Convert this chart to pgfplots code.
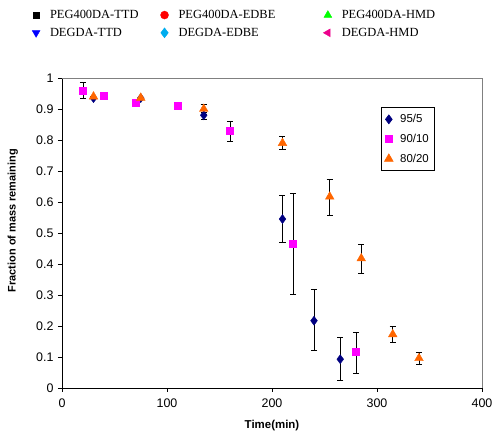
\documentclass[border=0pt]{standalone}
\usepackage{pgfplots}
\pgfplotsset{compat=1.18}
\usepackage{fontspec}
\setmainfont{Liberation Sans}
\newfontfamily\serif{Liberation Serif}

\definecolor{navy}{RGB}{0,0,128}
\definecolor{mag}{RGB}{255,0,255}
\definecolor{orng}{RGB}{255,102,0}

% x, y, err plus, err minus
\pgfplotstableread{
x y ep em
30 0.935 0 0
75 0.935 0 0
135 0.88 0.01 0.015
210 0.545 0.075 0.075
240 0.217 0.10 0.097
265 0.093 0.07 0.07
}\ninetyfive
\pgfplotstableread{
x y ep em
20 0.96 0.025 0.025
40 0.944 0 0
70 0.92 0 0
110 0.91 0 0
160 0.83 0.03 0.035
220 0.465 0.163 0.163
280 0.117 0.061 0.07
}\ninety
\pgfplotstableread{
x y ep em
30 0.94 0 0
75 0.936 0 0
135 0.90 0.016 0.016
210 0.79 0.023 0.019
255 0.617 0.056 0.059
285 0.418 0.045 0.048
315 0.173 0.025 0.027
340 0.096 0.019 0.02
}\eighty

\begin{document}
\begin{tikzpicture}
\useasboundingbox (-62bp,-43bp) rectangle (430bp,388bp);
\begin{axis}[
  at={(0,0)}, anchor=origin,
  scale only axis,
  width=420bp, height=310bp,
  xmin=0, xmax=400, ymin=0, ymax=1,
  xtick={0,100,...,400},
  ytick={0,0.1,...,1.0},
  axis x line*=bottom, axis y line*=left,
  axis line style={black, line width=0.8pt, -},
  tick align=outside,
  major tick length=4bp,
  tick style={black, line width=0.8pt},
  /pgf/number format/assume math mode=true,
  tick label style={font=\fontsize{12.5}{14}\selectfont},
  xticklabel style={yshift=-3bp},
  yticklabel style={xshift=-1bp},
  xlabel={\textbf{Time(min)}},
  ylabel={\textbf{Fraction of mass remaining}},
  xlabel style={at={(axis description cs:0.5,-0.12)}, anchor=center, font=\fontsize{11.5}{13}\selectfont},
  ylabel style={at={(axis description cs:-0.117,0.54)}, anchor=center, font=\fontsize{11}{12}\selectfont},
  legend style={at={(axis description cs:0.76,0.906)}, anchor=north west,
    draw=black, line width=0.6pt, font=\fontsize{11.5}{13}\selectfont,
    inner xsep=3bp, inner ysep=5bp, row sep=6bp, cells={anchor=west},
    /tikz/column 1/.style={column sep=5bp}},
  legend image code/.code={\draw[#1] plot coordinates {(0bp,0bp)};},
  error bars/y dir=both, error bars/y explicit,
  error bars/error bar style={black, line width=0.8pt},
  error bars/error mark options={rotate=90, mark size=3bp, black, line width=0.8pt},
  extra description/.code={\draw[gray, line width=0.8pt] (rel axis cs:0,1) -- (rel axis cs:1,1) -- (rel axis cs:1,0);},
]
\addplot[only marks, mark=diamond*, mark size=4.5bp, color=navy]
  table[x=x, y=y, y error plus=ep, y error minus=em] {\ninetyfive};
\addlegendentry{95/5}
\addplot[only marks, mark=square*, mark size=3.6bp, color=mag]
  table[x=x, y=y, y error plus=ep, y error minus=em] {\ninety};
\addlegendentry{90/10}
\addplot[only marks, mark=triangle*, mark size=5bp, color=orng]
  table[x=x, y=y, y error plus=ep, y error minus=em] {\eighty};
\addlegendentry{80/20}
\end{axis}
\begin{axis}[
  at={(0,0)}, anchor=origin,
  scale only axis,
  width=420bp, height=310bp,
  xmin=0, xmax=1, ymin=0, ymax=1,
  hide axis,
  legend columns=3,
  legend style={at={(axis description cs:-0.0714,1.2258)}, anchor=north west,
    draw=none, fill=none, font=\serif\fontsize{12.5}{14}\selectfont,
    inner sep=0bp, row sep=4bp, cells={anchor=west},
    /tikz/column 1/.style={column sep=8bp},
    /tikz/column 2/.style={column sep=20bp},
    /tikz/column 3/.style={column sep=8bp},
    /tikz/column 4/.style={column sep=46bp},
    /tikz/column 5/.style={column sep=8bp}},
  legend image code/.code={\draw[#1] plot coordinates {(0bp,0bp)};},
]
\addlegendimage{only marks, mark=square*, mark size=3bp, black}
\addlegendentry{PEG400DA-TTD}
\addlegendimage{only marks, mark=*, mark size=4bp, red}
\addlegendentry{PEG400DA-EDBE}
\addlegendimage{only marks, mark=triangle*, mark size=4.5bp, green}
\addlegendentry{PEG400DA-HMD}
\addlegendimage{only marks, mark=triangle*, mark size=4.5bp, mark options={rotate=180}, blue}
\addlegendentry{DEGDA-TTD}
\addlegendimage{only marks, mark=diamond*, mark size=5bp, cyan}
\addlegendentry{DEGDA-EDBE}
\addlegendimage{only marks, mark=triangle*, mark size=4.5bp, mark options={rotate=90}, magenta}
\addlegendentry{DEGDA-HMD}
\end{axis}
\end{tikzpicture}
\end{document}
